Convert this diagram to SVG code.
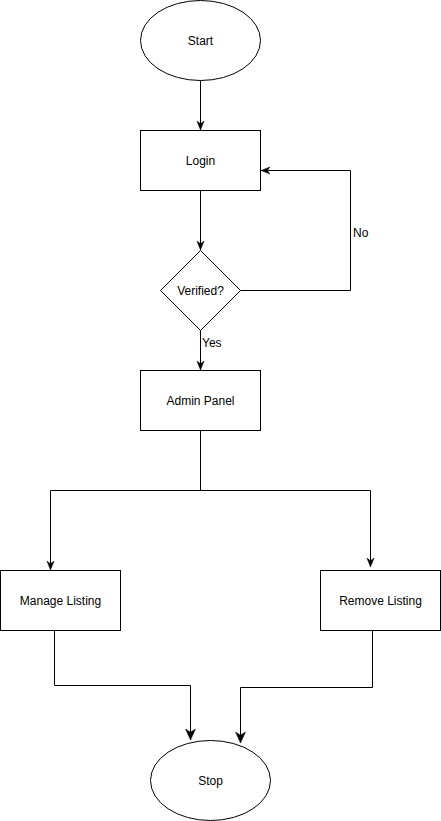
<svg xmlns="http://www.w3.org/2000/svg" width="441" height="821" viewBox="0 0 441 821">
<style>
.shape{fill:#fff;stroke:#000;stroke-width:1}
.lbl{font-family:"Liberation Sans",Arial,sans-serif;font-size:12px;fill:#000;text-anchor:middle;dominant-baseline:central}
.elbl{font-family:"Liberation Sans",Arial,sans-serif;font-size:12px;fill:#000;dominant-baseline:central}
.edge{fill:none;stroke:#000;stroke-width:1;marker-end:url(#arrow)}
.edgeL{fill:none;stroke:#000;stroke-width:1;marker-end:url(#arrowL)}
.plain{fill:none;stroke:#000;stroke-width:1}
</style>
<defs>
<marker id="arrow" markerUnits="userSpaceOnUse" viewBox="0 0 10 10" markerWidth="9" markerHeight="9" refX="10" refY="5" orient="auto">
<path d="M0,1 L10,5 L0,9 L3,5 Z" fill="#000" stroke="#000" stroke-width="0.5"/>
</marker>
<marker id="arrowL" markerUnits="userSpaceOnUse" viewBox="0 0 10 10" markerWidth="11" markerHeight="11" refX="10" refY="5" orient="auto">
<path d="M0,0.5 L10,5 L0,9.5 L3,5 Z" fill="#000" stroke="#000" stroke-width="0.5"/>
</marker>
</defs>
<rect width="441" height="821" fill="#fff"/>
<g id="connectors">
<path class="edge" d="M200.5,80.5 V130"/>
<path class="edge" d="M200.5,190.5 V250"/>
<path class="edge" d="M240.5,290.5 H350.5 V170.5 H261"/>
<path class="edge" d="M200.5,330.5 V370"/>
<path class="plain" d="M200.5,430.5 V490.5"/>
<path class="edge" d="M200.5,490.5 H50.5 V570"/>
<path class="edge" d="M200.5,490.5 H370.5 V567"/>
<path class="edgeL" d="M54.5,630.5 V685.5 H190.5 V740"/>
<path class="edgeL" d="M372.5,630.5 V687.5 H240.5 V743"/>
<text class="elbl" x="353" y="233">No</text>
<text class="elbl" x="202" y="343">Yes</text>
</g>
<g id="start"><ellipse class="shape" cx="200.5" cy="40.5" rx="60" ry="40"/><text class="lbl" x="200.5" y="40.5">Start</text></g>
<g id="login"><rect class="shape" x="140.5" y="130.5" width="120" height="60"/><text class="lbl" x="200.5" y="160.5">Login</text></g>
<g id="verified"><path class="shape" d="M200.5,250.5 L240.5,290.5 L200.5,330.5 L160.5,290.5 Z"/><text class="lbl" x="200.5" y="290.5">Verified?</text></g>
<g id="admin"><rect class="shape" x="140.5" y="370.5" width="120" height="60"/><text class="lbl" x="200.5" y="400.5">Admin Panel</text></g>
<g id="manage"><rect class="shape" x="0.5" y="570.5" width="120" height="60"/><text class="lbl" x="60.5" y="600.5">Manage Listing</text></g>
<g id="remove"><rect class="shape" x="320.5" y="570.5" width="120" height="60"/><text class="lbl" x="380.5" y="600.5">Remove Listing</text></g>
<g id="stop"><ellipse class="shape" cx="210.5" cy="780.5" rx="60" ry="40"/><text class="lbl" x="210.5" y="780.5">Stop</text></g>
</svg>
